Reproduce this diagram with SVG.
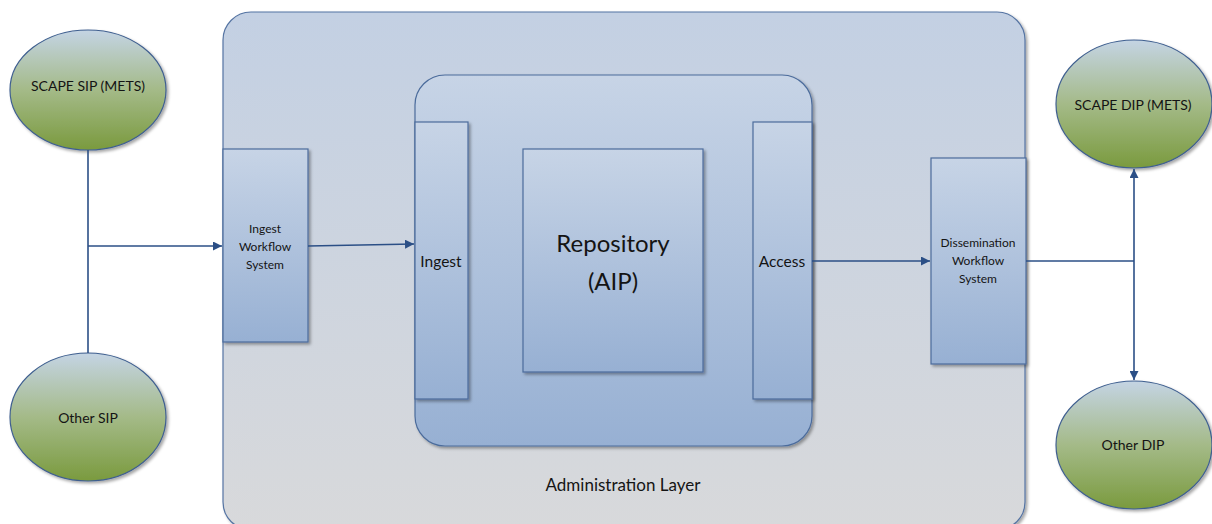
<svg xmlns="http://www.w3.org/2000/svg" width="1212" height="524" viewBox="0 0 1212 524">
  <style>
    .lbl { font-family: Lato, "Open Sans", "Liberation Sans", sans-serif; fill: #141414; text-anchor: middle; }
    .box { fill: url(#boxGrad); stroke: #4c6c9c; stroke-width: 1.2; filter: url(#shadow); }
    .oval { fill: url(#ovalGrad); stroke: #3f5f8f; stroke-width: 1.2; filter: url(#shadow); }
    .wire { fill: none; stroke: #2b4f86; stroke-width: 1.6; }
  </style>
  <defs>
    <linearGradient id="boxGrad" x1="0" y1="0" x2="0" y2="1">
      <stop offset="0" stop-color="#c7d4e6"/>
      <stop offset="1" stop-color="#97b0d3"/>
    </linearGradient>
    <linearGradient id="layerGrad" x1="0" y1="0" x2="0" y2="1">
      <stop offset="0" stop-color="#c3d0e3"/>
      <stop offset="1" stop-color="#d8d9db"/>
    </linearGradient>
    <linearGradient id="ovalGrad" x1="0" y1="0" x2="0" y2="1">
      <stop offset="0" stop-color="#c4d4e4"/>
      <stop offset="0.5" stop-color="#a4ba88"/>
      <stop offset="1" stop-color="#7a9a3e"/>
    </linearGradient>
    <filter id="shadow" x="-10%" y="-10%" width="125%" height="125%">
      <feDropShadow dx="2" dy="2" stdDeviation="1.5" flood-color="#000" flood-opacity="0.35"/>
    </filter>
    <marker id="arrow" viewBox="0 0 10 10" refX="10" refY="5" markerWidth="9" markerHeight="9" markerUnits="userSpaceOnUse" orient="auto">
      <path d="M0,0 L10,5 L0,10 z" fill="#2b4f86"/>
    </marker>
  </defs>

  <!-- administration layer (container) -->
  <g id="administration-layer">
    <rect x="223" y="12" width="802" height="518" rx="28" ry="28" fill="url(#layerGrad)" stroke="#5574a3" stroke-width="1.2" filter="url(#shadow)"/>
    <text class="lbl" x="623" y="491" font-size="17">Administration Layer</text>
  </g>

  <!-- repository block with ingest / access ports -->
  <g id="repository-block">
    <rect class="box" x="415" y="75" width="397" height="371" rx="30" ry="30"/>
  </g>
  <g id="ingest">
    <rect class="box" x="415" y="122" width="53" height="277"/>
    <text class="lbl" x="441" y="267" font-size="15.5">Ingest</text>
  </g>
  <g id="access">
    <rect class="box" x="753" y="122" width="59" height="277"/>
    <text class="lbl" x="782" y="267" font-size="15.5">Access</text>
  </g>
  <g id="repository">
    <rect class="box" x="523" y="149" width="180" height="223"/>
    <text class="lbl" x="613" y="252" font-size="24">Repository</text>
    <text class="lbl" x="613" y="290" font-size="24">(AIP)</text>
  </g>

  <!-- workflow systems -->
  <g id="ingest-workflow">
    <rect class="box" x="223" y="149" width="85" height="193"/>
    <text class="lbl" x="265" y="233" font-size="12">Ingest</text>
    <text class="lbl" x="265" y="251" font-size="12">Workflow</text>
    <text class="lbl" x="265" y="269" font-size="12">System</text>
  </g>
  <g id="dissemination-workflow">
    <rect class="box" x="931" y="158" width="95" height="206"/>
    <text class="lbl" x="978" y="247" font-size="12">Dissemination</text>
    <text class="lbl" x="978" y="265" font-size="12">Workflow</text>
    <text class="lbl" x="978" y="283" font-size="12">System</text>
  </g>

  <!-- information packages -->
  <g id="scape-sip">
    <ellipse class="oval" cx="88" cy="90" rx="78" ry="60"/>
    <text class="lbl" x="88" y="91" font-size="14">SCAPE SIP (METS)</text>
  </g>
  <g id="other-sip">
    <ellipse class="oval" cx="88" cy="417" rx="78" ry="64"/>
    <text class="lbl" x="88" y="423" font-size="14">Other SIP</text>
  </g>
  <g id="scape-dip">
    <ellipse class="oval" cx="1134" cy="104" rx="78" ry="64"/>
    <text class="lbl" x="1133" y="110" font-size="14">SCAPE DIP (METS)</text>
  </g>
  <g id="other-dip">
    <ellipse class="oval" cx="1134" cy="445" rx="78" ry="64"/>
    <text class="lbl" x="1133" y="450" font-size="14">Other DIP</text>
  </g>

  <!-- connectors -->
  <g id="connectors">
    <path class="wire" d="M88,150 L88,353"/>
    <path class="wire" d="M88,246 L222,246" marker-end="url(#arrow)"/>
    <path class="wire" d="M308,246 L414,244" marker-end="url(#arrow)"/>
    <path class="wire" d="M812,261 L930,261" marker-end="url(#arrow)"/>
    <path class="wire" d="M1026,261 L1134,261"/>
    <path class="wire" d="M1134,261 L1134,169" marker-end="url(#arrow)"/>
    <path class="wire" d="M1134,261 L1134,380" marker-end="url(#arrow)"/>
  </g>
</svg>
